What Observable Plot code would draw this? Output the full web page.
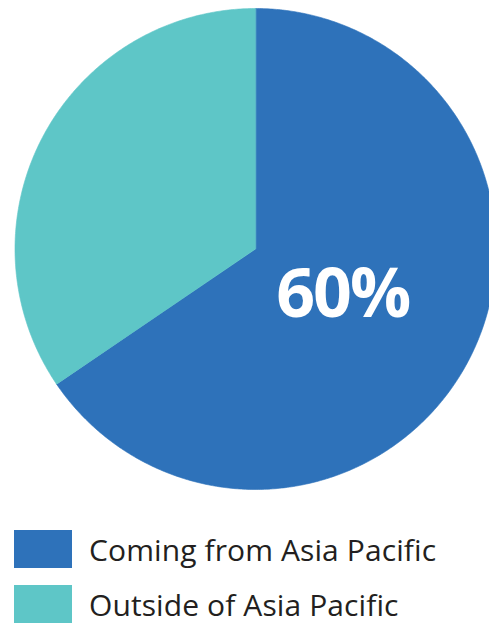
<!DOCTYPE html>
<html>
<head>
<meta charset="utf-8">
<script src="https://cdn.jsdelivr.net/npm/d3@7"></script>
<script src="https://cdn.jsdelivr.net/npm/@observablehq/plot@0.6"></script>
<style>
  html, body { margin: 0; padding: 0; background: #fff; overflow: hidden; }
  #wrap { position: relative; width: 489px; height: 623px; }
  #chart { position: absolute; left: 0; top: 0; }
  .item { position: absolute; left: 14px; height: 38px; display: flex; align-items: center; }
  .sw { width: 58px; height: 38px; flex: none; }
  .lab { margin-left: 17px; font-family: "Open Sans", sans-serif; font-size: 30px; color: #231f20; white-space: nowrap; letter-spacing: 0.1px; }
</style>
</head>
<body>
<div id="wrap">
  <div id="chart"></div>
  <div id="legend"></div>
</div>
<script>
const categories = ["Coming from Asia Pacific", "Outside of Asia Pacific"];
const values = [65.5, 34.5];
const colors = ["#2e72ba", "#5ec6c7"];
const labelText = "60%";

// build slice outlines from the data with d3.pie
const arcs = d3.pie().sort(null).value(d => d.value)(categories.map((c, i) => ({category: c, value: values[i]})));
const pts = [];
arcs.forEach(a => {
  const c = a.data.category;
  pts.push({category: c, x: 0, y: 0});
  const n = Math.max(2, Math.ceil((a.endAngle - a.startAngle) / (Math.PI / 360)));
  for (let k = 0; k <= n; k++) {
    const t = a.startAngle + (a.endAngle - a.startAngle) * k / n;
    pts.push({category: c, x: Math.sin(t), y: Math.cos(t)});
  }
});
const main = arcs[0];
const mid = (main.startAngle + main.endAngle) / 2;
const labelR = 0.41;
const labels = [{text: labelText, x: labelR * Math.sin(mid), y: labelR * Math.cos(mid)}];

const plot = Plot.plot({
  width: 489,
  height: 500,
  margin: 0,
  x: {domain: [-1, 1], range: [14.5, 495.5], axis: null},
  y: {domain: [-1, 1], range: [489, 8], axis: null},
  color: {domain: categories, range: colors},
  style: {background: "transparent", overflow: "hidden"},
  marks: [
    Plot.line(pts, {x: "x", y: "y", z: "category", fill: "category", stroke: "category", strokeWidth: 0.6, curve: "linear-closed", clip: "frame"}),
    Plot.text(labels, {x: "x", y: "y", text: "text", fill: "white", fontSize: 68, fontWeight: "bold", fontFamily: "Open Sans", textAnchor: "middle", lineAnchor: "middle"})
  ]
});
plot.querySelectorAll("text").forEach(t => t.setAttribute("letter-spacing", "-2"));
document.getElementById("chart").appendChild(plot);

const legend = document.getElementById("legend");
const tops = [530, 585];
categories.forEach((c, i) => {
  const it = document.createElement("div");
  it.className = "item";
  it.style.top = tops[i] + "px";
  const sw = document.createElement("div");
  sw.className = "sw";
  sw.style.background = colors[i];
  const lab = document.createElement("span");
  lab.className = "lab";
  lab.textContent = c;
  it.appendChild(sw);
  it.appendChild(lab);
  legend.appendChild(it);
});
</script>
</body>
</html>
